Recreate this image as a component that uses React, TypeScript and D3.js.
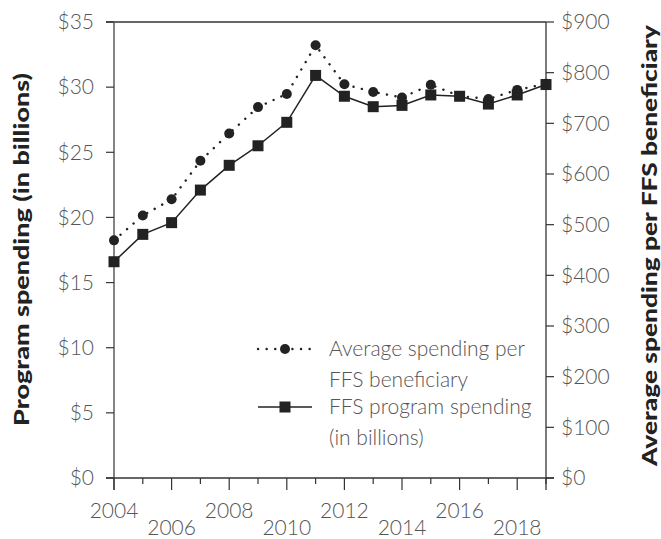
import React from 'react';
import * as d3 from 'd3';

const years = [2004, 2005, 2006, 2007, 2008, 2009, 2010, 2011, 2012, 2013, 2014, 2015, 2016, 2017, 2018, 2019];
// FFS program spending, billions (left axis)
const programSpending = [16.6, 18.7, 19.6, 22.1, 24.0, 25.5, 27.3, 30.9, 29.3, 28.5, 28.6, 29.4, 29.3, 28.7, 29.4, 30.2];
// Average spending per FFS beneficiary, dollars (right axis)
const avgPerBeneficiary = [469, 518, 550, 626, 680, 732, 758, 854, 777, 762, 751, 776, 754, 748, 766, 778];
const leftTicks = [0, 5, 10, 15, 20, 25, 30, 35];
const rightTicks = [0, 100, 200, 300, 400, 500, 600, 700, 800, 900];

const W = 661;
const H = 539;
const margin = { top: 22, right: 115, bottom: 61, left: 114 };
const FONT = "Lato, 'Open Sans', sans-serif";
const FS = 21;

export default function App() {
  const x = d3.scaleLinear()
    .domain([2004, 2019])
    .range([margin.left, W - margin.right]);
  const yL = d3.scaleLinear().domain([0, 35]).range([H - margin.bottom, margin.top]);
  const yR = d3.scaleLinear().domain([0, 900]).range([H - margin.bottom, margin.top]);

  const x0 = x(2004);
  const x1 = x(2019);
  const yb = yL(0);
  const yt = yL(35);

  const progLine = d3.line<number>()
    .x((_, i) => x(years[i]))
    .y(d => yL(d))(programSpending) as string;
  const avgLine = d3.line<number>()
    .x((_, i) => x(years[i]))
    .y(d => yR(d))(avgPerBeneficiary) as string;

  const tickColor = '#555';
  const sq = 11;

  return (
    <svg width={W} height={H} style={{ position: 'absolute', left: 0, top: 0 }} fontFamily={FONT}>
      <rect width={W} height={H} fill="#fff" />
      {/* frame */}
      <line x1={x0 - 8} x2={x1} y1={yt} y2={yt} stroke="#333" strokeWidth={1.3} />
      <line x1={x0} x2={x0} y1={yt} y2={yb + 12} stroke="#666" strokeWidth={1.6} />
      <line x1={x1} x2={x1} y1={yt} y2={yb + 12} stroke="#333" strokeWidth={1.3} />
      <line x1={x0 - 8} x2={x1 + 8} y1={yb} y2={yb} stroke="#333" strokeWidth={1.3} />

      {/* left axis */}
      {leftTicks.map(t => (
        <g key={'l' + t}>
          <line x1={x0 - 8} x2={x0} y1={yL(t)} y2={yL(t)} stroke="#333" strokeWidth={1.2} />
          <text x={x0 - 20} y={yL(t)} dy="0.35em" textAnchor="end" fontSize={FS} fontWeight={300} fill={tickColor}>
            {'$' + t}
          </text>
        </g>
      ))}
      {/* right axis */}
      {rightTicks.map(t => (
        <g key={'r' + t}>
          <line x1={x1} x2={x1 + 8} y1={yR(t)} y2={yR(t)} stroke="#333" strokeWidth={1.2} />
          <text x={x1 + 15} y={yR(t)} dy="0.35em" textAnchor="start" fontSize={FS} fontWeight={300} fill={tickColor}>
            {'$' + t}
          </text>
        </g>
      ))}
      {/* bottom axis */}
      {years.map((yr, i) => (
        <line key={'b' + yr} x1={x(yr)} x2={x(yr)} y1={yb} y2={yb + (i % 2 === 0 ? 12 : 6)} stroke="#333" strokeWidth={1.2} />
      ))}
      {years.filter((_, i) => i % 2 === 0).map((yr, j) => (
        <text key={'bl' + yr} x={x(yr)} y={j % 2 === 0 ? 518 : 535} textAnchor="middle" fontSize={FS} fontWeight={300} fill={tickColor}>
          {yr}
        </text>
      ))}

      {/* axis titles */}
      <text transform={`translate(29,${(73 + 426) / 2}) rotate(-90)`} textAnchor="middle" fontSize={21} fontWeight={900} fill="#222"
        textLength={353} lengthAdjust="spacingAndGlyphs">
        Program spending (in billions)
      </text>
      <text transform={`translate(657,${(25 + 466) / 2}) rotate(-90)`} textAnchor="middle" fontSize={21} fontWeight={900} fill="#222"
        textLength={441} lengthAdjust="spacingAndGlyphs">
        Average spending per FFS beneficiary
      </text>

      {/* series */}
      <path d={avgLine} fill="none" stroke="#222" strokeWidth={2.4} strokeDasharray="0.1 8.5" strokeLinecap="round" />
      <path d={progLine} fill="none" stroke="#222" strokeWidth={1.5} />
      {avgPerBeneficiary.map((v, i) => (
        <circle key={'c' + i} cx={x(years[i])} cy={yR(v)} r={5} fill="#222" />
      ))}
      {programSpending.map((v, i) => (
        <rect key={'s' + i} x={x(years[i]) - sq / 2} y={yL(v) - sq / 2} width={sq} height={sq} fill="#222" />
      ))}

      {/* legend */}
      <path d="M258,349 L312,349" stroke="#222" strokeWidth={2.4} strokeDasharray="0.1 8.5" strokeLinecap="round" />
      <circle cx={285} cy={349} r={5} fill="#222" />
      <text x={329} y={349} dy="0.35em" fontSize={FS} fontWeight={300} fill={tickColor}>Average spending per</text>
      <text x={329} y={380} dy="0.35em" fontSize={FS} fontWeight={300} fill={tickColor}>FFS beneficiary</text>
      <line x1={258} x2={312} y1={407} y2={407} stroke="#222" strokeWidth={1.5} />
      <rect x={285 - sq / 2} y={407 - sq / 2} width={sq} height={sq} fill="#222" />
      <text x={329} y={407} dy="0.35em" fontSize={FS} fontWeight={300} fill={tickColor}>FFS program spending</text>
      <text x={329} y={438} dy="0.35em" fontSize={FS} fontWeight={300} fill={tickColor}>(in billions)</text>
    </svg>
  );
}
